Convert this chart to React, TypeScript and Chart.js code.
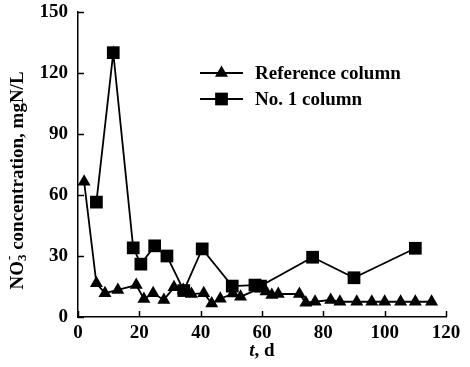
import React, { useEffect, useRef } from 'react';
import { Chart, registerables } from 'chart.js';

Chart.register(...registerables);

// Reference column (triangles)
const refDays = [2, 6, 8.8, 13, 19, 21.5, 24.5, 28, 31.3, 34.3, 37, 41, 43.6, 46.4, 50.5, 53, 59.3, 61.3, 63.2, 65.3, 72.2, 74.3, 77.3, 82.4, 85.4, 90.9, 95.8, 100, 105.2, 110, 115.3];
const refConc = [66.5, 16.6, 11.7, 13.3, 15.7, 8.9, 11.7, 8.4, 14.6, 13.3, 11.3, 11.7, 6.7, 9, 11.5, 10, 14, 12.5, 10.8, 11.3, 11.3, 7, 7.5, 8.4, 7.5, 7.5, 7.5, 7.5, 7.5, 7.5, 7.5];

// No. 1 column (squares)
const no1Days = [6, 11.5, 18, 20.5, 25, 29, 34.5, 40.5, 50.3, 57.7, 59.5, 76.5, 90, 110];
const no1Conc = [56.5, 130, 34, 26, 35, 30, 13, 33.5, 15.2, 15.7, 15.2, 29.4, 19.3, 33.8];

const seriesNames = ['Reference column', 'No. 1 column'];
const xTitleItalic = 't';
const xTitleRest = ', d';
const yTitleParts = ['NO', '3', '-', ' concentration, mgN/L'];

const FONT = "'Liberation Serif', 'Times New Roman', serif";

const decorPlugin = {
  id: 'decor',
  afterDraw(chart: any) {
    const ctx = chart.ctx as CanvasRenderingContext2D;
    const xs = chart.scales.x;
    const ys = chart.scales.y;
    const ca = chart.chartArea;
    ctx.save();
    ctx.strokeStyle = '#000';
    ctx.fillStyle = '#000';
    ctx.lineWidth = 1.5;
    // inward ticks
    xs.ticks.forEach((_t: any, i: number) => {
      const px = Math.round(xs.getPixelForTick(i)) + 0.5;
      ctx.beginPath();
      ctx.moveTo(px, ca.bottom);
      ctx.lineTo(px, ca.bottom - 6);
      ctx.stroke();
    });
    ys.ticks.forEach((_t: any, i: number) => {
      const py = Math.round(ys.getPixelForTick(i)) + 0.5;
      ctx.beginPath();
      ctx.moveTo(ca.left, py);
      ctx.lineTo(ca.left + 6, py);
      ctx.stroke();
    });

    // legend
    const lx0 = ca.left + 122;
    const lx1 = ca.left + 165;
    const rows = [ca.top + 61, ca.top + 87];
    chart.data.datasets.forEach((ds: any, i: number) => {
      const yy = rows[i];
      ctx.lineWidth = ds.borderWidth;
      ctx.beginPath();
      ctx.moveTo(lx0, yy);
      ctx.lineTo(lx1, yy);
      ctx.stroke();
      const cx = (lx0 + lx1) / 2;
      ctx.beginPath();
      if (ds.pointStyle === 'triangle') {
        const r = ds.pointRadius;
        ctx.moveTo(cx, yy - r);
        ctx.lineTo(cx + r * Math.sin(Math.PI * 2 / 3), yy + r / 2);
        ctx.lineTo(cx - r * Math.sin(Math.PI * 2 / 3), yy + r / 2);
        ctx.closePath();
      } else {
        const s = ds.pointRadius * Math.SQRT1_2;
        ctx.rect(cx - s, yy - s, 2 * s, 2 * s);
      }
      ctx.fill();
      ctx.font = `bold 19px ${FONT}`;
      ctx.textBaseline = 'middle';
      ctx.textAlign = 'left';
      ctx.fillText(ds.label, lx1 + 12, yy + 1);
    });

    // x title
    const xc = (ca.left + ca.right) / 2;
    const xy = ca.bottom + 34;
    ctx.textBaseline = 'middle';
    ctx.textAlign = 'left';
    ctx.font = `italic bold 19px ${FONT}`;
    const w1 = ctx.measureText(xTitleItalic).width;
    ctx.font = `bold 19px ${FONT}`;
    const w2 = ctx.measureText(xTitleRest).width;
    const sx = xc - (w1 + w2) / 2;
    ctx.font = `italic bold 19px ${FONT}`;
    ctx.fillText(xTitleItalic, sx, xy);
    ctx.font = `bold 19px ${FONT}`;
    ctx.fillText(xTitleRest, sx + w1, xy);

    // y title (rotated, with sub/superscript)
    const fMain = `bold 19px ${FONT}`;
    const fSmall = `bold 13px ${FONT}`;
    const fonts = [fMain, fSmall, fSmall, fMain];
    const widths = yTitleParts.map((p, i) => {
      ctx.font = fonts[i];
      return ctx.measureText(p).width;
    });
    const total = widths[0] + Math.max(widths[1], widths[2]) + widths[3];
    const cy = (ca.top + ca.bottom) / 2 + 16;
    ctx.translate(18, cy);
    ctx.rotate(-Math.PI / 2);
    let px = -total / 2;
    ctx.font = fMain;
    ctx.fillText(yTitleParts[0], px, 0);
    px += widths[0];
    ctx.font = fSmall;
    ctx.fillText(yTitleParts[1], px, 5);
    ctx.fillText(yTitleParts[2], px + 1, -8);
    px += Math.max(widths[1], widths[2]);
    ctx.font = fMain;
    ctx.fillText(yTitleParts[3], px, 0);
    ctx.restore();
  },
};

export default function App() {
  const ref = useRef<HTMLCanvasElement | null>(null);
  useEffect(() => {
    document.body.style.margin = '0';
    const canvas = ref.current!;
    const chart = new Chart(canvas, {
      type: 'line',
      data: {
        datasets: [
          {
            label: seriesNames[0],
            data: refDays.map((d, i) => ({ x: d, y: refConc[i] })),
            borderColor: '#000',
            backgroundColor: '#000',
            borderWidth: 1.8,
            pointStyle: 'triangle',
            pointRadius: 7.5,
            pointBorderWidth: 0,
            pointBackgroundColor: '#000',
            tension: 0,
            clip: false as any,
          },
          {
            label: seriesNames[1],
            data: no1Days.map((d, i) => ({ x: d, y: no1Conc[i] })),
            borderColor: '#000',
            backgroundColor: '#000',
            borderWidth: 1.8,
            pointStyle: 'rect',
            pointRadius: 9,
            pointBorderWidth: 0,
            pointBackgroundColor: '#000',
            tension: 0,
            clip: false as any,
          },
        ],
      },
      options: {
        animation: false,
        responsive: false,
        devicePixelRatio: 1,
        layout: { padding: { top: 12, right: 24, left: 0, bottom: 0 } },
        plugins: { legend: { display: false }, tooltip: { enabled: false } },
        scales: {
          x: {
            type: 'linear',
            min: 0,
            max: 120,
            ticks: { stepSize: 20, color: '#000', font: { family: FONT, size: 19, weight: 'bold' }, padding: 5, maxRotation: 0 },
            grid: { display: false, drawTicks: false },
            border: { display: true, color: '#000', width: 1.5 },
            afterFit: (s: any) => { s.height = 50; s.paddingLeft = 0; s.paddingRight = 0; },
          },
          y: {
            min: 0,
            max: 150,
            ticks: { stepSize: 30, color: '#000', font: { family: FONT, size: 19, weight: 'bold' }, padding: 10 },
            grid: { display: false, drawTicks: false },
            border: { display: true, color: '#000', width: 1.5 },
            afterFit: (s: any) => { s.width = 78; s.paddingTop = 0; s.paddingBottom = 0; },
          },
        },
      } as any,
      plugins: [decorPlugin],
    });
    return () => chart.destroy();
  }, []);
  return (
    <div style={{ width: 470, height: 367, background: '#fff' }}>
      <canvas ref={ref} width={470} height={367} />
    </div>
  );
}
